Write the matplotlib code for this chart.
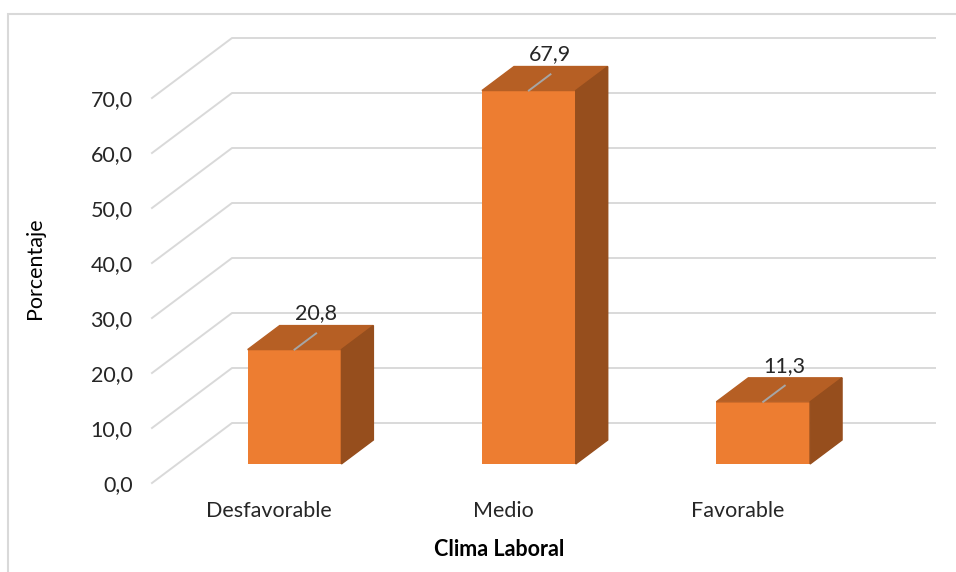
# -*- coding: utf-8 -*-
"""
Clima laboral - barras con efecto 3D (porcentajes)
"""
import matplotlib.pyplot as plt
from matplotlib.patches import Polygon, Rectangle

plt.rcParams['font.family'] = ['Lato', 'DejaVu Sans']

categorias = ['Desfavorable', 'Medio', 'Favorable']
porcentajes = [20.8, 67.9, 11.3]
ticks_y = [0, 10, 20, 30, 40, 50, 60, 70]

c_frente = '#ED7D31'
c_tapa = '#B65F24'
c_lado = '#964E1D'
c_rejilla = '#d9d9d9'
c_texto = '#262626'
fs = 15.5

fig = plt.figure(figsize=(9.56, 5.72), dpi=100)
ax = fig.add_axes([152/956, 89/572, 703/956, 385/572])
ax.set_xlim(-0.5, 2.5)
ax.set_ylim(0, 70)

# vector de profundidad en unidades de datos (80 px a la derecha, 60 px arriba)
DX = 80 / 703 * 3
DY = 60 / 385 * 70
f1, f2 = 0.317, 0.717   # profundidad de la cara frontal y trasera de las barras
w = 0.2

# rejilla: linea oblicua en la pared lateral + horizontal en el fondo
for v in ticks_y:
    ax.plot([-0.5, -0.5 + DX, 2.5 + DX], [v, v + DY, v + DY],
            color=c_rejilla, lw=1.4, clip_on=False, zorder=1)

for i, v in enumerate(porcentajes):
    x0 = i + f1 * DX
    y0 = f1 * DY
    ax.bar(x0, v, width=2 * w, bottom=y0, color=c_frente, zorder=3, clip_on=False)
    xl, xr = i - w, i + w
    tapa = [(xl + f1*DX, v + f1*DY), (xr + f1*DX, v + f1*DY),
            (xr + f2*DX, v + f2*DY), (xl + f2*DX, v + f2*DY)]
    lado = [(xr + f1*DX, f1*DY), (xr + f2*DX, f2*DY),
            (xr + f2*DX, v + f2*DY), (xr + f1*DX, v + f1*DY)]
    ax.add_patch(Polygon(tapa, closed=True, color=c_tapa, zorder=3, clip_on=False))
    ax.add_patch(Polygon(lado, closed=True, color=c_lado, zorder=3, clip_on=False))
    # linea guia y etiqueta del valor
    d = f1 + 0.27
    ax.plot([x0, i + d*DX], [v + f1*DY, v + d*DY], color='#a6a6a6', lw=1.4,
            zorder=4, clip_on=False)
    ax.annotate(f'{v:.1f}'.replace('.', ','), xy=(x0, v + f1*DY), xytext=(21, 36),
                textcoords='offset pixels', ha='center', va='center',
                fontsize=fs, color=c_texto, zorder=5, annotation_clip=False)

ax.set_yticks(ticks_y)
ax.set_yticklabels([f'{t:.1f}'.replace('.', ',') for t in ticks_y])
ax.set_xticks(range(len(categorias)))
ax.set_xticklabels(categorias)
ax.tick_params(axis='both', length=0, labelsize=fs, labelcolor=c_texto)
ax.tick_params(axis='y', pad=14)
ax.tick_params(axis='x', pad=13)
for s in ax.spines.values():
    s.set_visible(False)
ax.patch.set_visible(False)

ax.set_ylabel('Porcentaje', fontsize=fs, color='black', va='center')
ax.yaxis.set_label_coords(-0.166, 0.558)
ax.set_xlabel('Clima Laboral', fontsize=fs, fontweight='bold', color='black', va='center')
ax.xaxis.set_label_coords(0.494, -0.174)

# marco del area del grafico
fig.add_artist(Rectangle((8/956, -0.1), 1.2, (558/572) + 0.1, transform=fig.transFigure,
                         fill=False, edgecolor=c_rejilla, lw=1.5))

fig.savefig('out.png', dpi=100)
